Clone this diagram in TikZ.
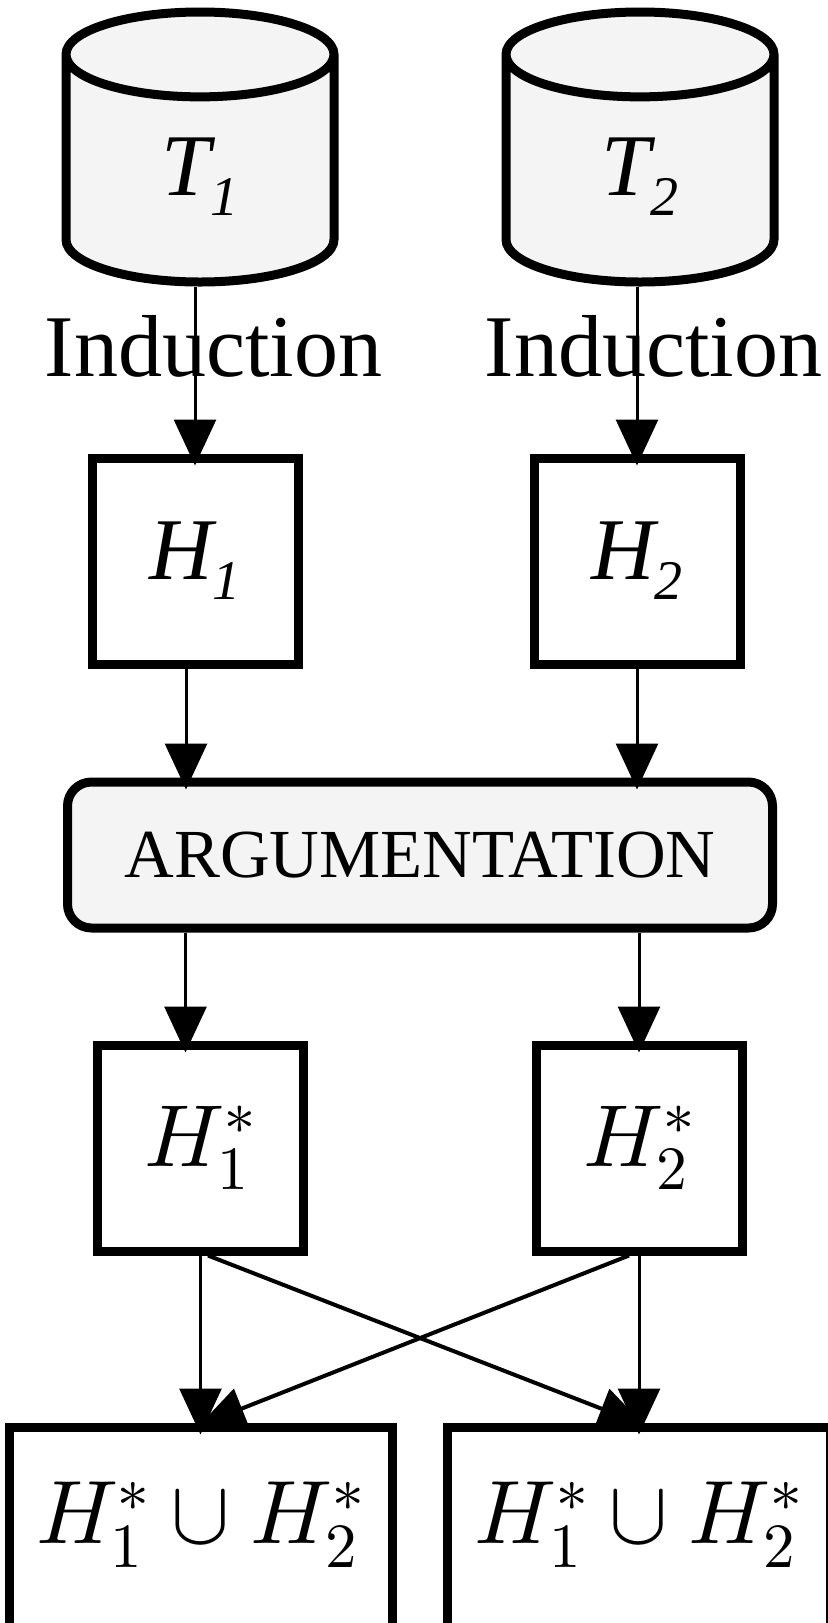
\documentclass[tikz,border=0pt]{standalone}
\usepackage{unicode-math}
\setmainfont{Liberation Serif}
\setmathfont{Latin Modern Math}
\usetikzlibrary{arrows.meta,positioning,calc,shapes.geometric}
\definecolor{storeGray}{RGB}{244,244,244}
\colorlet{softgray}{storeGray}
\newcommand{\lowidx}[1]{{\fontsize{28pt}{28pt}\selectfont\raisebox{-10pt}{#1}}}

\begin{document}
\begin{tikzpicture}[x=0.5pt,y=-0.5pt,>={Triangle[length=23pt,width=21pt]},
  store/.style={cylinder,shape border rotate=90,aspect=0.94,draw,line width=4.5pt,fill=softgray,minimum width=134pt,minimum height=135pt,font=\fontsize{44pt}{44pt}\selectfont\itshape},
  hypo/.style={draw,line width=4.5pt,fill=white,minimum width=103pt,minimum height=103pt,inner sep=0pt,font=\fontsize{44pt}{44pt}\selectfont\itshape},
  argbox/.style={draw,line width=4.5pt,rounded corners=12pt,fill=softgray,minimum width=352.5pt,minimum height=73pt,font=\fontsize{34.4pt}{34.4pt}\selectfont},
  unionbox/.style={draw,line width=4.5pt,fill=white,minimum width=191.5pt,minimum height=112pt,inner sep=0pt,text depth=26pt,font=\fontsize{45pt}{45pt}\selectfont},
  ind/.style={inner sep=0pt,font=\fontsize{44pt}{44pt}\selectfont},
  flow/.style={line width=1.5pt,shorten >=-6pt},
  cross/.style={line width=2pt,shorten >=-4pt}]
\useasboundingbox (0,0) rectangle (827,1623);
% sources
\node[store,anchor=shape center] (T1) at (200,147) {T\lowidx{1}};
\node[store,anchor=shape center] (T2) at (640,147) {T\lowidx{2}};
% hypotheses
\node[hypo,anchor=north] (H1) at ($(T1.south)+(-2.5pt,-83.5pt)$) {H\lowidx{1}};
\node[hypo,anchor=north] (H2) at ($(T2.south)+(-1.5pt,-83.5pt)$) {H\lowidx{2}};
\node[argbox,anchor=north] (arg) at ($(H1.south)!.5!(H2.south)+(2pt,-54.5pt)$) {ARGUMENTATION};
\node[hypo,anchor=north,font=\fontsize{44pt}{44pt}\selectfont] (H1s) at ($(H1.south)+(2.75pt,-186pt)$) {$H_1^*$};
\node[hypo,anchor=north,font=\fontsize{44pt}{44pt}\selectfont] (H2s) at ($(H2.south)+(1pt,-186pt)$) {$H_2^*$};
\node[unionbox,below=83.5pt of H1s] (U1) {$H_1^*\cup H_2^*$};
\node[unionbox,below=83.5pt of H2s] (U2) {$H_1^*\cup H_2^*$};
% labels
\node[ind,xshift=6.75pt] (ind1) at ($(T1.south)!.36!(T1.south |- H1.north)$) {Induction};
\node[ind,xshift=6.75pt] (ind2) at ($(T2.south)!.36!(T2.south |- H2.north)$) {Induction};
% arrows
\coordinate (a1) at ([xshift=-4.5pt]H1.south);
\coordinate (a2) at (H2.south);
\coordinate (b1) at ([xshift=-7.5pt]H1s.north);
\coordinate (b2) at (H2s.north);
\draw[->,flow] (T1.south -| H1.north) -- (H1.north);
\draw[->,flow] (T2.south -| H2.north) -- (H2.north);
\draw[->,flow] (a1) -- (a1 |- arg.north);
\draw[->,flow] (a2) -- (a2 |- arg.north);
\draw[->,flow] (b1 |- arg.south) -- (b1);
\draw[->,flow] (b2 |- arg.south) -- (b2);
\draw[->,flow] (H1s) -- (U1);
\draw[->,flow] (H2s) -- (U2);
\draw[->,cross] ([xshift=3.75pt]H1s.south) -- ([xshift=-1pt]U2.north);
\draw[->,cross] ([xshift=-5pt]H2s.south) -- ([xshift=3pt]U1.north);
\end{tikzpicture}
\end{document}
